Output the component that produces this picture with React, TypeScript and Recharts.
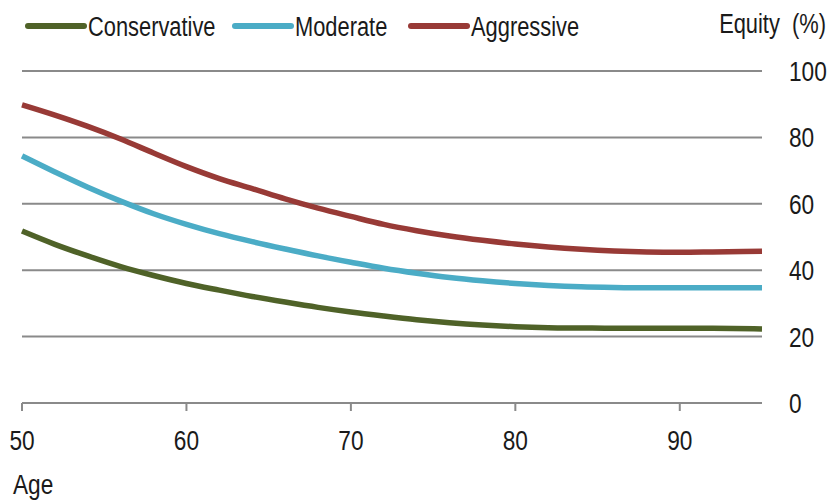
import React from 'react';
import { LineChart, Line, XAxis, YAxis, CartesianGrid, Legend, Label } from 'recharts';

const ages = [50, 52, 54, 56, 58, 60, 62, 64, 66, 68, 70, 72, 74, 76, 78, 80, 82, 84, 86, 88, 90, 92, 95];
const conservative = [51.8, 47.8, 44.3, 41.1, 38.4, 36, 34, 32.1, 30.4, 28.8, 27.4, 26.2, 25.1, 24.2, 23.5, 23, 22.7, 22.6, 22.5, 22.5, 22.5, 22.5, 22.3];
const moderate = [74.4, 69.6, 65, 60.8, 57, 53.8, 51, 48.6, 46.4, 44.3, 42.4, 40.6, 39.1, 37.8, 36.8, 36, 35.4, 35, 34.8, 34.7, 34.7, 34.7, 34.7];
const aggressive = [89.8, 86.7, 83.3, 79.5, 75.3, 71.2, 67.6, 64.6, 61.5, 58.7, 56.2, 53.8, 51.9, 50.3, 49, 47.9, 47, 46.3, 45.8, 45.5, 45.4, 45.5, 45.7];

const xTicks = [50, 60, 70, 80, 90];
const yTicks = [0, 20, 40, 60, 80, 100];

const series = [
  { key: 'Conservative', color: '#4f6228' },
  { key: 'Moderate', color: '#4bacc6' },
  { key: 'Aggressive', color: '#983a36' },
];

const data = ages.map((age, i) => ({
  age,
  Conservative: conservative[i],
  Moderate: moderate[i],
  Aggressive: aggressive[i],
}));

const FONT = "'Liberation Sans', Arial, sans-serif";
const GRID = '#8a8a8a';
const INK = '#1a1a1a';
const SQUEEZE = 0.81; // reference uses a condensed face

// text squeezed horizontally around its anchor point
const Narrow = ({ x, y, anchor = 'start', size = 27, dy = '0', children }: any) => (
  <g transform={`translate(${x},${y}) scale(${SQUEEZE},1)`}>
    <text x={0} y={0} dy={dy} textAnchor={anchor} fill={INK} fontSize={size} fontFamily={FONT} xmlSpace="preserve">
      {children}
    </text>
  </g>
);

const XTick = ({ x, y, payload }: any) => (
  <Narrow x={x} y={y} anchor="middle" size={28} dy="0.71em">{payload.value}</Narrow>
);

const YTick = ({ x, y, payload }: any) => (
  <Narrow x={x} y={y} anchor="start" size={28} dy="0.355em">{payload.value}</Narrow>
);

const LegendContent = () => {
  let cx = 28;
  const items = series.map((s) => {
    const lineX = cx;
    const textX = cx + 60;
    cx = textX + s.key.length * 0; // placeholder, widths set below
    return { ...s, lineX, textX };
  });
  const labelWidths = [133, 102, 116];
  let pos = 28;
  items.forEach((it, i) => {
    it.lineX = pos;
    it.textX = pos + 60;
    pos = it.textX + labelWidths[i] + 14;
  });
  return (
    <svg width={833} height={50} style={{ display: 'block' }}>
      {items.map((it) => (
        <g key={it.key}>
          <line x1={it.lineX} y1={26} x2={it.lineX + 56} y2={26} stroke={it.color} strokeWidth={6} strokeLinecap="round" />
          <Narrow x={it.textX} y={26} dy="0.355em" size={27}>{it.key}</Narrow>
        </g>
      ))}
    </svg>
  );
};

export default function App() {
  return (
    <div style={{ position: 'absolute', left: 0, top: 0, width: 833, height: 502, background: '#fff', fontFamily: FONT }}>
      <LineChart width={833} height={502} data={data} margin={{ top: 71, right: 0, left: 22, bottom: 0 }}>
        <CartesianGrid vertical={false} stroke={GRID} strokeWidth={2} yAxisId="right" />
        <XAxis
          dataKey="age"
          type="number"
          domain={[50, 95]}
          ticks={xTicks}
          height={99}
          stroke={GRID}
          strokeWidth={2}
          tickSize={8}
          tickMargin={19}
          tick={XTick}
        >
          <Label
            content={({ viewBox }: any) => (
              <Narrow x={viewBox.x - 9} y={viewBox.y + 91} size={28}>Age</Narrow>
            )}
          />
        </XAxis>
        <YAxis
          yAxisId="left"
          orientation="left"
          width={0}
          domain={[0, 100]}
          ticks={yTicks}
          stroke={GRID}
          strokeWidth={2}
          tickSize={9}
          tickFormatter={() => ''}
        />
        <YAxis
          yAxisId="right"
          orientation="right"
          width={71}
          domain={[0, 100]}
          ticks={yTicks}
          axisLine={false}
          tickLine={false}
          tickSize={0}
          tickMargin={27}
          tick={YTick}
        >
          <Label
            content={({ viewBox }: any) => (
              <Narrow x={viewBox.x + viewBox.width - 7} y={33} anchor="end" size={27}>Equity  (%)</Narrow>
            )}
          />
        </YAxis>
        <Legend
          layout="horizontal"
          verticalAlign="middle"
          align="center"
          wrapperStyle={{ top: 0, left: 0, width: 833 }}
          content={LegendContent}
        />
        {series.map((s) => (
          <Line
            key={s.key}
            yAxisId="right"
            type="monotone"
            dataKey={s.key}
            stroke={s.color}
            strokeWidth={5.5}
            dot={false}
            activeDot={false}
            isAnimationActive={false}
          />
        ))}
      </LineChart>
    </div>
  );
}
